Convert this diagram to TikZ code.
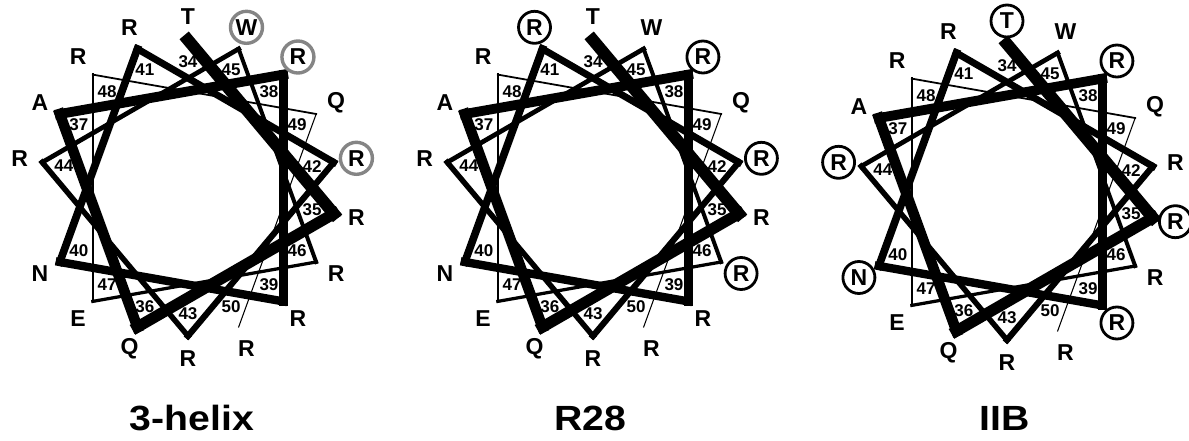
\documentclass[tikz,border=0pt]{standalone}
\usepackage{fontspec}
\setmainfont{Liberation Sans}
\usepackage{tikz}
\usepackage{xcolor}
\usetikzlibrary{calc}

\begin{document}
\begin{tikzpicture}[x=1pt, y=-1pt,
    resname/.style={font=\fontsize{23}{23}\selectfont\bfseries, inner sep=0pt},
    resnum/.style={font=\fontsize{17}{17}\selectfont\bfseries, inner sep=0pt},
    ringgrey/.style={draw=black!48, line width=3.4pt},
    ringblack/.style={draw=black, line width=2.8pt},
    title/.style={font=\fontsize{35}{35}\selectfont\bfseries, xscale=1.12}]
  \useasboundingbox (0,0) rectangle (1189,441);
  % --- wheels: residues 34-50, 100 deg per residue ---------------------
  \foreach \p/\cx/\cy in {h/188/188, r/593/188, b/1007/192} {
    \foreach \i in {34,...,50}
      \coordinate (\p\i) at ($(\cx,\cy)+({100*(\i-34)-90}:148)$);
    \foreach \i in {34,...,49} {
      \pgfmathtruncatemacro\j{\i+1}
      \pgfmathsetmacro\w{12-0.73*(\i-34)}
      \draw[line width=\w pt, line cap=rect] (\p\i) -- (\p\j);
    }
    \foreach \i/\aa in {34/T,35/R,36/Q,37/A,38/R,39/R,40/N,41/R,42/R,
                        43/R,44/R,45/W,46/R,47/E,48/R,49/Q,50/R} {
      \node[resnum]  (\p n\i) at ($(\cx,\cy)+({100*(\i-34)-90}:126)$) {\i};
      \node[resname] (\p a\i) at ($(\cx,\cy)+({100*(\i-34)-90}:171)$) {\aa};
    }
  }
  % --- circled residues ------------------------------------------------
  \foreach \k in {45,38,42}          \draw[ringgrey]  (ha\k) circle (16pt);
  \foreach \k in {41,38,42,46}       \draw[ringblack] (ra\k) circle (16pt);
  \foreach \k in {34,38,35,39,44,40} \draw[ringblack] (ba\k) circle (16pt);
  % --- panel titles ----------------------------------------------------
  \node[title] (th) at (192,418) {3-helix};
  \node[title] (tr) at (590,418) {R28};
  \node[title] (tb) at (1005,418) {IIB};
\end{tikzpicture}
\end{document}
